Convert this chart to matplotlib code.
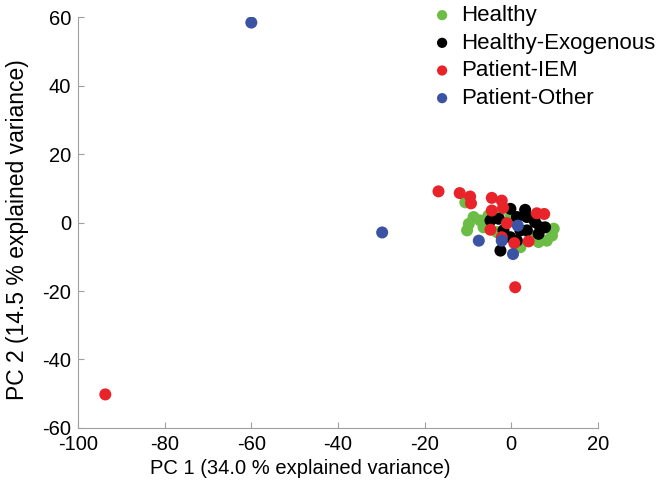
import numpy as np
import matplotlib
matplotlib.use('Agg')
import matplotlib.pyplot as plt

plt.rcParams['font.family'] = ['Liberation Sans', 'DejaVu Sans']
plt.rcParams['axes.unicode_minus'] = False

# --- DATA ---
healthy_x = [-8.7, -9.8, -10.2, -7.2, -6.4, -10.6, 9.8, 9.4, 8.2, 6.3, 2.1, -3.3, -2.9, 4.4, -0.2, -5.3]
healthy_y = [1.6, -0.4, -2.3, 0.6, -1.4, 5.9, -1.8, -3.8, -5.3, -5.7, -7.2, -2.8, 2.6, -3.8, 1.6, 2.0]

exo_x = [-0.2, 3.2, -4.8, -2.9, 1.3, 3.6, 6.7, 7.8, 6.3, 2.1, 3.6, -1.8, -2.5, -0.2, 1.3, 5.5]
exo_y = [4.0, 3.7, 0.6, 1.1, 1.6, 1.6, -1.4, -1.4, -3.3, -2.3, -2.3, -2.3, -8.2, -4.3, -5.3, 0.1]

iem_x = [-93.7, -16.8, -11.9, -9.5, -9.3, -4.5, -2.2, -4.5, -1.9, 5.9, 7.6, -1.0, -4.8, -2.2, 0.7, 4.0, 0.9]
iem_y = [-50.2, 9.1, 8.6, 7.6, 5.6, 7.2, 6.4, 3.5, 4.3, 2.7, 2.5, -0.2, -2.1, -4.3, -6.0, -5.5, -18.9]

other_x = [-60.0, -29.8, -7.5, -2.2, 1.5, 0.4]
other_y = [58.4, -2.9, -5.3, -5.3, -0.9, -9.2]

groups = ['Healthy', 'Healthy-Exogenous', 'Patient-IEM', 'Patient-Other']
colors = ['#6cbd45', '#000000', '#e8242a', '#3a53a4']

fig = plt.figure(figsize=(6.64, 4.88), dpi=100)
ax = fig.add_axes([0.1175, 0.123, 0.783, 0.842])

series = [(healthy_x, healthy_y), (exo_x, exo_y), (iem_x, iem_y), (other_x, other_y)]
for (xs, ys), name, c in zip(series, groups, colors):
    ax.scatter(xs, ys, s=75, color=c, edgecolors='none', label=name, zorder=3)

ax.set_xlim(-100, 20)
ax.set_ylim(-60, 60)
ax.set_xticks(np.arange(-100, 21, 20))
ax.set_yticks(np.arange(-60, 61, 20))

for side in ['top', 'right']:
    ax.spines[side].set_visible(False)
for side in ['left', 'bottom']:
    ax.spines[side].set_color('#a0a0a0')
    ax.spines[side].set_linewidth(0.8)
ax.tick_params(direction='in', length=4, color='#a0a0a0', labelsize=14.5)
ax.tick_params(axis='x', pad=5)
ax.tick_params(axis='y', pad=5)

# labels sit slightly off-centre in the reference
ax.set_xlabel('PC 1 (34.0 % explained variance)', fontsize=14.5)
ax.xaxis.set_label_coords(0.427, -0.075)
ax.set_ylabel('PC 2 (14.5 % explained variance)', fontsize=16.5)
ax.yaxis.set_label_coords(-0.094, 0.482)

leg = fig.legend(loc='upper left', bbox_to_anchor=(431 / 664, 1 - 5 / 488), frameon=False,
                 fontsize=16, handletextpad=0.36, labelspacing=0.3,
                 handlelength=1.0, borderpad=0, borderaxespad=0, markerscale=0.85)

fig.savefig('out.png', dpi=100)
